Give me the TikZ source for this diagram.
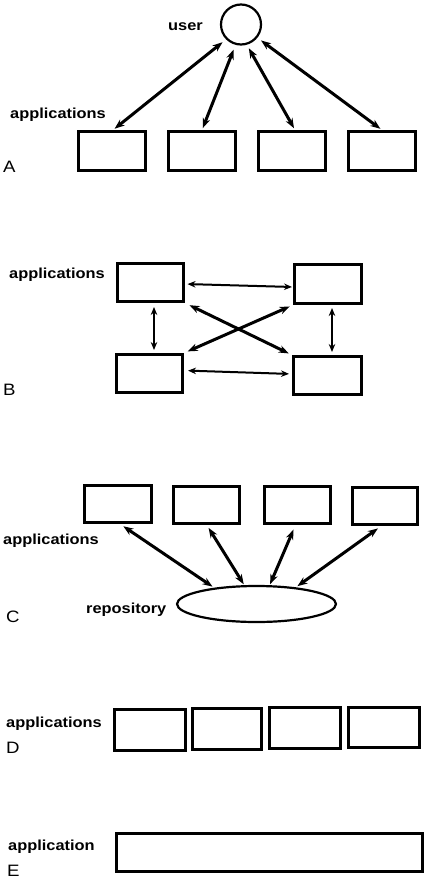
\documentclass[tikz,border=0pt]{standalone}
\usepackage{fontspec}
\setmainfont{Liberation Sans}[FakeStretch=1.13]
\usetikzlibrary{arrows.meta,shapes.geometric}
\begin{document}
\begin{tikzpicture}[x=1pt,y=-1pt,
  box/.style={draw, line width=3pt, inner sep=0pt},
  lbl/.style={font=\fontsize{14.5}{16}\selectfont\bfseries, anchor=base west, inner sep=0pt},
  tag/.style={font=\fontsize{16.5}{18}\selectfont, anchor=base west, inner sep=0pt},
  thick2/.style={line width=3pt, {Stealth[length=10pt,width=7.5pt]}-{Stealth[length=10pt,width=7.5pt]}},
  thin2/.style={line width=2pt, {Stealth[length=8pt,width=6.5pt]}-{Stealth[length=8pt,width=6.5pt]}}
]
\fill[white] (0,0) rectangle (430,880);
\useasboundingbox (0,0) rectangle (430,880);

% ---------- A ----------
\node[draw, circle, line width=2.2pt, minimum size=40pt, inner sep=0pt] (u) at (241,24.5) {};
\node[lbl] (ulbl) at (168,30.5) {user};
\node[lbl] (aapp) at (10,118) {applications};
\node[tag] (ta) at (3,172) {A};
\foreach \n/\x in {a1/112,a2/202,a3/292,a4/382}
  \node[box, minimum width=67pt, minimum height=39pt] (\n) at (\x,151) {};
\draw[thick2, shorten <=2pt, shorten >=4.5pt] ([xshift=1pt]a1.north) -- (u.225);
\draw[thick2, shorten <=2pt, shorten >=5pt] (a2.north) -- (u.255);
\draw[thick2, shorten <=2pt, shorten >=4pt] ([xshift=3pt]a3.north) -- (u.286);
\draw[thick2, shorten <=2pt, shorten >=4.5pt] (a4.north) -- (u.321);

% ---------- B ----------
\node[lbl] (bapp) at (9,278) {applications};
\node[tag] (tb) at (3,395) {B};
\node[box, minimum width=66pt, minimum height=38pt] (tl) at (150.5,282.5) {};
\node[box, minimum width=67pt, minimum height=39pt] (tr) at (328,284) {};
\node[box, minimum width=66pt, minimum height=38pt] (bl) at (149.5,373.5) {};
\node[box, minimum width=68pt, minimum height=38pt] (br) at (327.5,375.5) {};
\draw[thin2, shorten <=2.5pt, shorten >=1pt] ([yshift=-1.5pt]tl.east) -- ([yshift=-3pt]tr.west);
\draw[thin2, shorten <=4pt, shorten >=3pt] ([yshift=3pt]bl.east) -- ([yshift=1.5pt]br.west);
\draw[thin2, shorten <=4pt, shorten >=3pt] ([xshift=3.5pt]tl.south) -- ([xshift=4.5pt]bl.north);
\draw[thin2, shorten <=3pt, shorten >=3pt] ([xshift=4pt]tr.south) -- ([xshift=4.5pt]br.north);
\draw[thick2, shorten <=5pt, shorten >=3.6pt] (tl.south east) -- (br.north west);
\draw[thick2, shorten <=3.6pt, shorten >=4pt] (tr.south west) -- (bl.north east);

% ---------- C ----------
\node[lbl] (capp) at (3,544) {applications};
\node[lbl] (rlbl) at (86,613) {repository};
\node[tag] (tc) at (6,622) {C};
\node[box, minimum width=67pt, minimum height=37pt] (c1) at (118,504) {};
\node[box, minimum width=66pt, minimum height=37pt] (c2) at (206.5,504.5) {};
\node[box, minimum width=66pt, minimum height=37pt] (c3) at (297.5,505) {};
\node[box, minimum width=65pt, minimum height=37pt] (c4) at (385,505.5) {};
\node[draw, ellipse, line width=2.2pt, minimum width=159pt, minimum height=36pt, inner sep=0pt] (rep) at (256.5,604) {};
\draw[thick2, shorten <=4pt, shorten >=2pt] ([xshift=2pt]c1.south) -- (rep.159);
\draw[thick2, shorten <=4pt, shorten >=1pt] (c2.south) -- (rep.123);
\draw[thick2, shorten <=5pt, shorten >=1pt] ([xshift=-2pt]c3.south) -- (rep.55);
\draw[thick2, shorten <=5pt, shorten >=2pt] ([xshift=-3pt]c4.south) -- (rep.23);

% ---------- D ----------
\node[lbl] (dapp) at (6,727) {applications};
\node[tag] (td) at (6,753) {D};
\node[box, minimum width=71pt, minimum height=41pt] (d1) at (150,730) {};
\node[box, minimum width=69pt, minimum height=41pt] (d2) at (227,729) {};
\node[box, minimum width=71pt, minimum height=41pt] (d3) at (305,728) {};
\node[box, minimum width=71pt, minimum height=40pt] (d4) at (384,727.5) {};

% ---------- E ----------
\node[lbl] (eapp) at (8,850) {application};
\node[tag] (te) at (7,876) {E};
\node[box, minimum width=306pt, minimum height=38pt] (e1) at (269.5,852.5) {};
\end{tikzpicture}
\end{document}
